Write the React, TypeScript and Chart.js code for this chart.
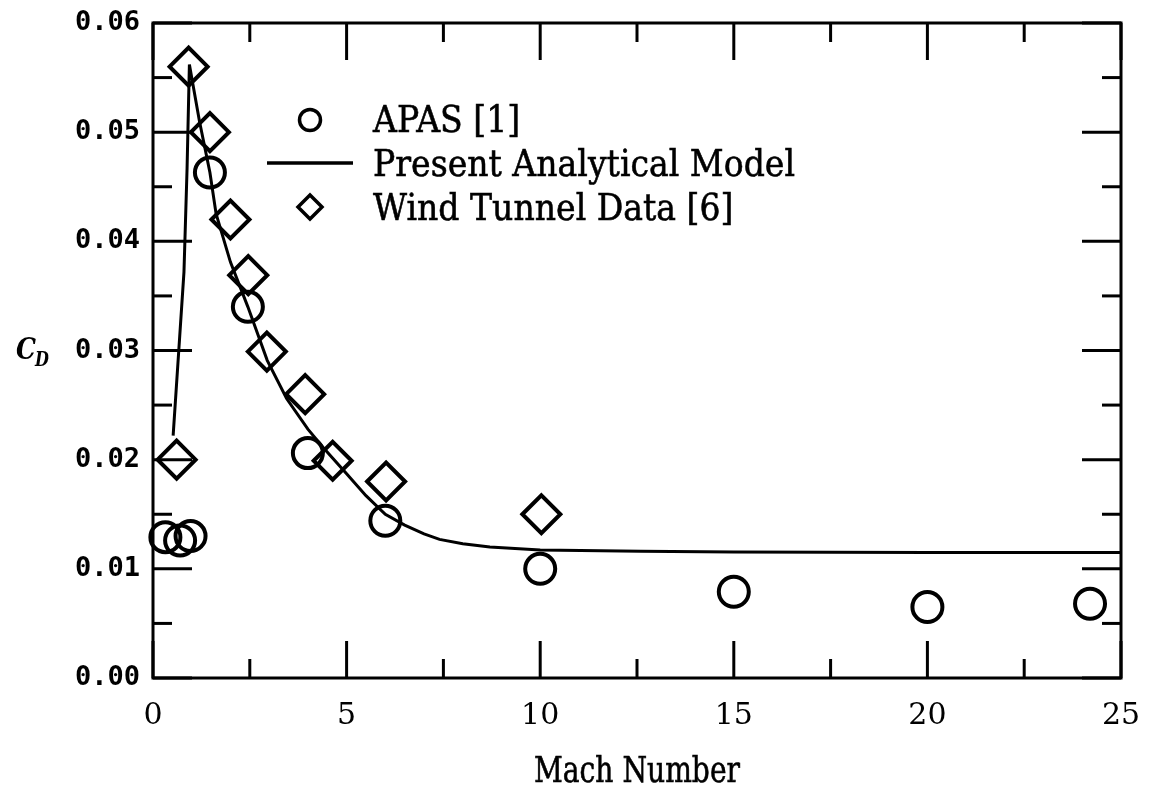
import React, { useEffect, useRef } from "react";
import { Chart, registerables } from "chart.js";

Chart.register(...registerables);

// ---------- data ----------
const apasMach = [0.32, 0.7, 0.97, 1.47, 2.45, 4.0, 6.0, 10.0, 15.0, 20.0, 24.2];
const apasCd = [0.0129, 0.0126, 0.013, 0.0463, 0.034, 0.0206, 0.0144, 0.01, 0.0079, 0.0065, 0.0068];

const windMach = [0.61, 0.92, 1.47, 2.0, 2.46, 2.94, 3.93, 4.64, 6.02, 10.03];
const windCd = [0.02, 0.056, 0.05, 0.042, 0.0369, 0.0299, 0.026, 0.0199, 0.018, 0.015];

const modelMach = [0.52, 0.66, 0.8, 0.88, 0.94, 1.2, 1.47, 1.63, 2.0, 2.45, 2.95, 3.45, 4.0, 4.4, 5.0, 5.5, 6.0, 6.5, 7.0, 7.4, 8.0, 8.7, 10.0, 12.6, 15.0, 20.0, 25.0];
const modelCd = [0.0222, 0.0297, 0.0372, 0.0467, 0.0562, 0.051, 0.0463, 0.0425, 0.0381, 0.034, 0.0291, 0.0256, 0.0228, 0.0211, 0.0187, 0.0167, 0.015, 0.014, 0.0132, 0.0127, 0.0123, 0.012, 0.01173, 0.0116, 0.01155, 0.0115, 0.0115];

const xMajorTicks = [0, 5, 10, 15, 20, 25];
const xMinorTicks = [2.5, 7.5, 12.5, 17.5, 22.5];
const yMajorTicks = [0, 0.01, 0.02, 0.03, 0.04, 0.05, 0.06];
const yMinorTicks = [0.005, 0.015, 0.025, 0.035, 0.045, 0.055];

const legendLabels = ["APAS [1]", "Present Analytical Model", "Wind Tunnel Data [6]"];
const xTitle = "Mach Number";

const TEXT_FONT = "37px 'DejaVu Serif'";

const framePlugin = {
  id: "frameTicks",
  afterDatasetsDraw(chart: any) {
    const { ctx, chartArea: a, scales } = chart;
    const xs = scales.x;
    const ys = scales.y;
    ctx.save();
    ctx.strokeStyle = "#000";
    ctx.lineWidth = 3;
    ctx.strokeRect(a.left, a.top, a.right - a.left, a.bottom - a.top);
    const seg = (x1: number, y1: number, x2: number, y2: number) => {
      ctx.beginPath();
      ctx.moveTo(x1, y1);
      ctx.lineTo(x2, y2);
      ctx.stroke();
    };
    xMajorTicks.forEach((v) => {
      const p = xs.getPixelForValue(v);
      seg(p, a.bottom, p, a.bottom - 37);
      seg(p, a.top, p, a.top + 37);
    });
    xMinorTicks.forEach((v) => {
      const p = xs.getPixelForValue(v);
      seg(p, a.bottom, p, a.bottom - 19);
      seg(p, a.top, p, a.top + 19);
    });
    yMajorTicks.forEach((v) => {
      const p = ys.getPixelForValue(v);
      seg(a.left, p, a.left + 39, p);
      seg(a.right, p, a.right - 39, p);
    });
    yMinorTicks.forEach((v) => {
      const p = ys.getPixelForValue(v);
      seg(a.left, p, a.left + 19, p);
      seg(a.right, p, a.right - 19, p);
    });
    ctx.restore();
  },
};

const textPlugin = {
  id: "legendTitles",
  afterDraw(chart: any) {
    const { ctx, chartArea: a } = chart;
    ctx.save();
    ctx.fillStyle = "#000";
    ctx.strokeStyle = "#000";
    ctx.font = TEXT_FONT;
    ctx.textBaseline = "alphabetic";
    ctx.textAlign = "left";
    const ref = ctx.measureText(legendLabels[1]).width;
    const k = 422 / ref;
    const tx = 373;
    const rows = [132, 176, 220];
    ctx.lineWidth = 0.6;
    legendLabels.forEach((s, i) => {
      const w = ctx.measureText(s).width * k;
      ctx.fillText(s, tx, rows[i], w);
      ctx.strokeText(s, tx, rows[i], w);
    });
    // legend symbols
    ctx.lineWidth = 3.5;
    ctx.beginPath();
    ctx.arc(310, 120, 10.5, 0, Math.PI * 2);
    ctx.stroke();
    ctx.beginPath();
    ctx.moveTo(267, 163);
    ctx.lineTo(353, 163);
    ctx.stroke();
    ctx.beginPath();
    ctx.moveTo(310 - 12, 207);
    ctx.lineTo(310, 207 - 12);
    ctx.lineTo(310 + 12, 207);
    ctx.lineTo(310, 207 + 12);
    ctx.closePath();
    ctx.stroke();
    // x axis title
    ctx.font = "35px 'DejaVu Serif'";
    ctx.textAlign = "center";
    ctx.lineWidth = 0.6;
    ctx.fillText(xTitle, (a.left + a.right) / 2, 782, 206);
    ctx.strokeText(xTitle, (a.left + a.right) / 2, 782, 206);
    // y axis title C_D
    ctx.textAlign = "left";
    ctx.font = "italic bold 30px 'DejaVu Serif'";
    ctx.fillText("C", 16, 359, 20);
    ctx.font = "italic bold 20px 'DejaVu Serif'";
    ctx.fillText("D", 35, 366, 14);
    ctx.restore();
  },
};

export default function App() {
  const ref = useRef<HTMLCanvasElement | null>(null);
  useEffect(() => {
    document.body.style.margin = "0";
    const canvas = ref.current;
    if (!canvas) return;
    const toPts = (xs: number[], ys: number[]) => xs.map((x, i) => ({ x, y: ys[i] }));
    const chart = new Chart(canvas, {
      type: "scatter",
      data: {
        datasets: [
          {
            label: legendLabels[1],
            data: toPts(modelMach, modelCd),
            showLine: true,
            borderColor: "#000",
            borderWidth: 3,
            pointRadius: 0,
            tension: 0,
            clip: false,
          } as any,
          {
            label: legendLabels[0],
            data: toPts(apasMach, apasCd),
            pointStyle: "circle",
            pointRadius: 15,
            pointBorderWidth: 4,
            pointBorderColor: "#000",
            pointBackgroundColor: "rgba(0,0,0,0)",
            clip: false,
          } as any,
          {
            label: legendLabels[2],
            data: toPts(windMach, windCd),
            pointStyle: "rectRot",
            pointRadius: 19,
            pointBorderWidth: 4,
            pointBorderColor: "#000",
            pointBackgroundColor: "rgba(0,0,0,0)",
            clip: false,
          } as any,
        ],
      },
      options: {
        animation: false,
        responsive: false,
        devicePixelRatio: 1,
        events: [],
        layout: { padding: { top: 20, right: 29, left: 0, bottom: 0 } },
        plugins: { legend: { display: false }, tooltip: { enabled: false } },
        scales: {
          x: {
            type: "linear",
            min: 0,
            max: 25,
            afterFit: (s: any) => {
              s.height = 110;
              s.paddingLeft = 0;
              s.paddingRight = 0;
            },
            afterBuildTicks: (s: any) => {
              s.ticks = xMajorTicks.map((v) => ({ value: v }));
            },
            grid: { display: false, drawTicks: false },
            border: { display: false },
            ticks: {
              color: "#000",
              padding: 20,
              maxRotation: 0,
              autoSkip: false,
              font: { family: "'DejaVu Serif'", size: 30 },
            },
          },
          y: {
            type: "linear",
            min: 0,
            max: 0.06,
            afterFit: (s: any) => {
              s.width = 153;
              s.paddingTop = 0;
              s.paddingBottom = 0;
            },
            afterBuildTicks: (s: any) => {
              s.ticks = yMajorTicks.map((v) => ({ value: v }));
            },
            grid: { display: false, drawTicks: false },
            border: { display: false },
            ticks: {
              color: "#000",
              padding: 13,
              autoSkip: false,
              callback: (v: any) => Number(v).toFixed(2),
              font: { family: "'DejaVu Sans Mono'", size: 27, weight: "bold" },
            },
          },
        },
      },
      plugins: [framePlugin, textPlugin],
    });
    return () => chart.destroy();
  }, []);
  return (
    <div style={{ position: "absolute", left: 0, top: 0, width: 1150, height: 788, background: "#fff" }}>
      <canvas ref={ref} width={1150} height={788} style={{ display: "block" }} />
    </div>
  );
}
